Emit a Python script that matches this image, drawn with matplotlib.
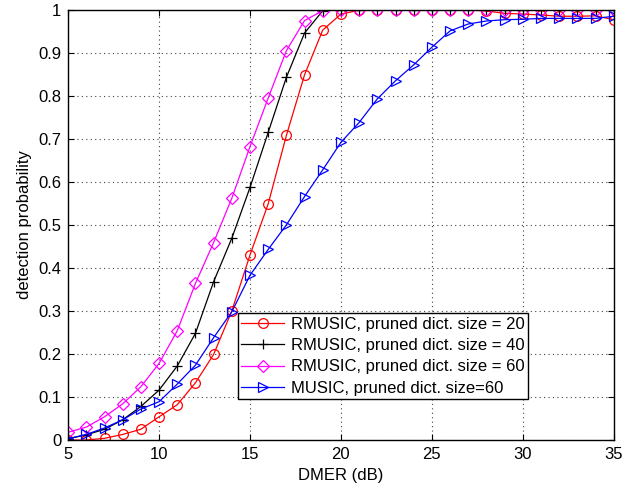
import matplotlib
matplotlib.use('Agg')
from matplotlib import pyplot as plt

plt.rcParams['font.family'] = ['Liberation Sans', 'DejaVu Sans']

dmer = list(range(5, 36))

rmusic_20 = [0.0, 0.0, 0.004, 0.013, 0.025, 0.054, 0.082, 0.133, 0.199, 0.300,
             0.430, 0.549, 0.708, 0.849, 0.953, 0.990, 0.999, 1.0, 1.0, 1.0,
             1.0, 1.0, 1.0, 0.997, 0.992, 0.990, 0.988, 0.985, 0.985, 0.986, 0.977]
rmusic_40 = [0.003, 0.012, 0.025, 0.047, 0.078, 0.116, 0.172, 0.248, 0.368, 0.469,
             0.587, 0.715, 0.843, 0.946, 0.998, 1.0, 1.0, 1.0, 1.0, 1.0,
             1.0, 1.0, 1.0, 1.0, 1.0, 1.0, 1.0, 1.0, 1.0, 1.0, 1.0]
rmusic_60 = [0.018, 0.030, 0.054, 0.084, 0.124, 0.178, 0.254, 0.364, 0.459, 0.562,
             0.682, 0.795, 0.905, 0.975, 0.998, 1.0, 1.0, 1.0, 1.0, 1.0,
             1.0, 1.0, 1.0, 1.0, 1.0, 1.0, 1.0, 1.0, 1.0, 1.0, 1.0]
music_60 = [0.003, 0.013, 0.028, 0.047, 0.072, 0.089, 0.130, 0.174, 0.238, 0.298,
            0.383, 0.443, 0.500, 0.566, 0.628, 0.692, 0.738, 0.793, 0.835, 0.872,
            0.913, 0.951, 0.967, 0.974, 0.977, 0.978, 0.980, 0.980, 0.980, 0.980, 0.985]

labels = ['RMUSIC, pruned dict. size = 20', 'RMUSIC, pruned dict. size = 40',
          'RMUSIC, pruned dict. size = 60', 'MUSIC, pruned dict. size=60']

fig = plt.figure(figsize=(6.25, 4.9), dpi=100)
ax = fig.add_axes([0.109, 0.102, 0.873, 0.878])

ms = dict(markersize=7, markerfacecolor='none', linewidth=0.9, markeredgewidth=0.9)
ax.plot(dmer, rmusic_20, '-o', color='red', label=labels[0], **ms)
ax.plot(dmer, rmusic_40, '-+', color='black', label=labels[1], **ms)
ax.plot(dmer, rmusic_60, '-D', color='magenta', label=labels[2],
        markersize=6, markerfacecolor='none', linewidth=0.9, markeredgewidth=0.9)
ax.plot(dmer, music_60, '->', color='blue', label=labels[3], **ms)

ax.set_xlim(5, 35)
ax.set_ylim(0, 1)
ax.set_xticks(range(5, 36, 5))
ax.set_yticks([i / 10 for i in range(11)])
ax.set_yticklabels(['0'] + ['0.%d' % i for i in range(1, 10)] + ['1'])
ax.tick_params(direction='in', labelsize=12, top=True, right=True, length=4, pad=5)
ax.grid(True, linestyle=(0, (1, 3)), color='#444444', linewidth=0.8)
for s in ax.spines.values():
    s.set_linewidth(1.0)

ax.set_xlabel('DMER (dB)', fontsize=12)
ax.set_ylabel('detection probability', fontsize=12)

leg = ax.legend(loc='lower left', bbox_to_anchor=(0.311, 0.095), fontsize=12,
                fancybox=False, edgecolor='black', framealpha=1,
                borderpad=0.2, labelspacing=0.38, handlelength=2.6, borderaxespad=0,
                handletextpad=0.4)
leg.get_frame().set_linewidth(1.0)

plt.savefig('out.png', dpi=100)
